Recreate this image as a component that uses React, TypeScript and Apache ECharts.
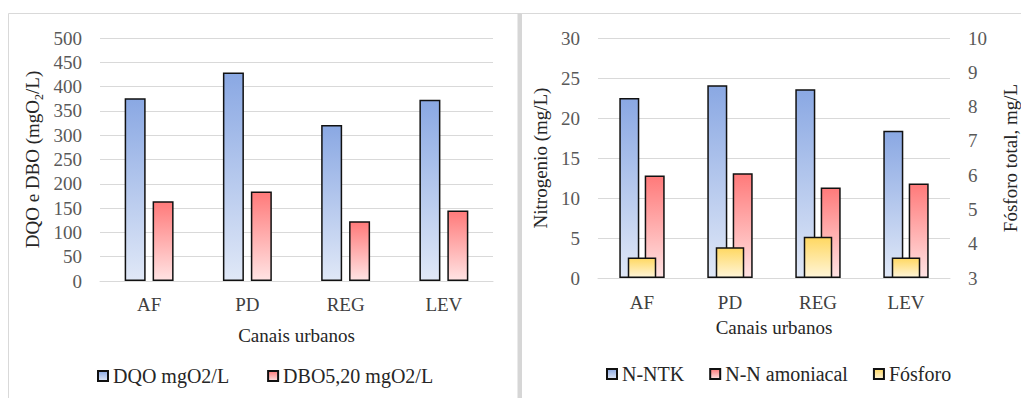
import React, { useEffect, useRef } from "react";
import * as echarts from "echarts";

const categories = ["AF", "PD", "REG", "LEV"];
const dqoValues = [376, 429, 321, 373];
const dboValues = [164, 184, 123, 145];
const ntkValues = [22.5, 24.1, 23.6, 18.4];
const amonValues = [12.8, 13.1, 11.3, 11.8];
const fosforoValues = [3.6, 3.9, 4.2, 3.6];

const seriesNames = {
  dqo: "DQO mgO2/L",
  dbo: "DBO5,20 mgO2/L",
  ntk: "N-NTK",
  amon: "N-N amoniacal",
  fosforo: "Fósforo",
};

const FONT = "'Liberation Serif', 'Times New Roman', serif";

const grad = (top: string, bottom: string) =>
  new echarts.graphic.LinearGradient(0, 0, 0, 1, [
    { offset: 0, color: top },
    { offset: 1, color: bottom },
  ]);

export default function App() {
  const ref = useRef<HTMLDivElement>(null);

  useEffect(() => {
    if (!ref.current) return;
    const chart = echarts.init(ref.current, undefined, { renderer: "svg" });

    const tickLabel = { fontSize: 19, color: "#595959", fontFamily: FONT, margin: 18 };
    const catLabel = { fontSize: 19, color: "#404040", fontFamily: FONT };
    const nameStyle = { fontSize: 19, color: "#262626", fontFamily: FONT };
    const gridLine = { lineStyle: { color: "#d9d9d9", width: 1 } };
    const border = { borderColor: "#111", borderWidth: 1.5 };

    const blue = grad("#8aa8e3", "#e0e8f7");
    const red = grad("#ff7a7a", "#ffe3e3");
    const yellow = grad("#ffd862", "#fff5d8");

    const option: any = {
      animation: false,
      backgroundColor: "#ffffff",
      textStyle: { fontFamily: FONT },
      graphic: [
        {
          type: "rect",
          shape: { x: 8.5, y: 13.5, width: 510, height: 420 },
          style: { fill: "none", stroke: "#d9d9d9", lineWidth: 1 },
          silent: true,
        },
        {
          type: "rect",
          shape: { x: 517.5, y: 13, width: 4.5, height: 400 },
          style: { fill: "#d6d6d6" },
          silent: true,
        },
        {
          type: "line",
          shape: { x1: 521, y1: 13.5, x2: 1021, y2: 13.5 },
          style: { stroke: "#d9d9d9", lineWidth: 1 },
          silent: true,
        },
      ],
      grid: [
        { left: 100, top: 38, width: 393, height: 243 },
        { left: 598, top: 38, width: 363, height: 240 },
      ],
      xAxis: [
        {
          gridIndex: 0,
          type: "category",
          data: categories,
          axisTick: { show: false },
          axisLine: gridLine,
          axisLabel: { ...catLabel, margin: 14 },
          name: "Canais urbanos",
          nameLocation: "middle",
          nameGap: 45,
          nameTextStyle: nameStyle,
        },
        {
          gridIndex: 1,
          type: "category",
          data: categories,
          axisTick: { show: false },
          axisLine: gridLine,
          axisLabel: { ...catLabel, margin: 15 },
          name: "Canais urbanos",
          nameLocation: "middle",
          nameGap: 40,
          nameTextStyle: nameStyle,
        },
        {
          gridIndex: 1,
          type: "category",
          data: categories,
          show: false,
        },
      ],
      yAxis: [
        {
          gridIndex: 0,
          type: "value",
          min: 0,
          max: 500,
          interval: 50,
          axisLine: { show: false },
          axisTick: { show: false },
          splitLine: gridLine,
          axisLabel: tickLabel,
          name: "DQO e DBO (mgO{sub|2}/L)",
          nameLocation: "middle",
          nameRotate: 90,
          nameGap: 55,
          nameTextStyle: {
            ...nameStyle,
            lineHeight: 26,
            rich: {
              sub: { fontSize: 12, lineHeight: 14, verticalAlign: "bottom", color: "#262626", fontFamily: FONT },
            },
          },
        },
        {
          gridIndex: 1,
          type: "value",
          min: 0,
          max: 30,
          interval: 5,
          axisLine: { show: false },
          axisTick: { show: false },
          splitLine: gridLine,
          axisLabel: tickLabel,
          name: "Nitrogenio (mg/L)",
          nameLocation: "middle",
          nameRotate: 90,
          nameGap: 48,
          nameTextStyle: nameStyle,
        },
        {
          gridIndex: 1,
          type: "value",
          position: "right",
          min: 3,
          max: 10,
          interval: 1,
          startValue: 3,
          axisLine: { show: false },
          axisTick: { show: false },
          splitLine: { show: false },
          axisLabel: tickLabel,
          name: "Fósforo total, mg/L",
          nameLocation: "middle",
          nameRotate: 90,
          nameGap: 51,
          nameTextStyle: nameStyle,
        },
      ],
      legend: [
        {
          data: [seriesNames.dqo, seriesNames.dbo],
          left: 97,
          top: 366,
          padding: 0,
          icon: "rect",
          itemWidth: 10,
          itemHeight: 10,
          itemGap: 38,
          textStyle: { fontSize: 20, color: "#262626", fontFamily: FONT },
        },
        {
          data: [seriesNames.ntk, seriesNames.amon, seriesNames.fosforo],
          left: 606,
          top: 364,
          padding: 0,
          icon: "rect",
          itemWidth: 10,
          itemHeight: 10,
          itemGap: 25,
          textStyle: { fontSize: 20, color: "#262626", fontFamily: FONT },
        },
      ],
      series: [
        {
          name: seriesNames.dqo,
          type: "bar",
          xAxisIndex: 0,
          yAxisIndex: 0,
          data: dqoValues,
          barWidth: 21,
          barGap: "33%",
          itemStyle: { color: blue, ...border },
        },
        {
          name: seriesNames.dbo,
          type: "bar",
          xAxisIndex: 0,
          yAxisIndex: 0,
          data: dboValues,
          barWidth: 21,
          barGap: "33%",
          itemStyle: { color: red, ...border },
        },
        {
          name: seriesNames.ntk,
          type: "bar",
          xAxisIndex: 1,
          yAxisIndex: 1,
          data: ntkValues,
          barWidth: 20,
          barGap: "27%",
          itemStyle: { color: blue, ...border },
        },
        {
          name: seriesNames.amon,
          type: "bar",
          xAxisIndex: 1,
          yAxisIndex: 1,
          data: amonValues,
          barWidth: 20,
          barGap: "27%",
          itemStyle: { color: red, ...border },
        },
        {
          name: seriesNames.fosforo,
          type: "bar",
          xAxisIndex: 2,
          yAxisIndex: 2,
          data: fosforoValues,
          barWidth: 28.5,
          z: 4,
          itemStyle: { color: yellow, ...border },
        },
      ],
    };

    chart.setOption(option);
    return () => chart.dispose();
  }, []);

  return (
    <div
      ref={ref}
      style={{ position: "fixed", left: 0, top: 0, width: 1021, height: 398, background: "#fff" }}
    />
  );
}
